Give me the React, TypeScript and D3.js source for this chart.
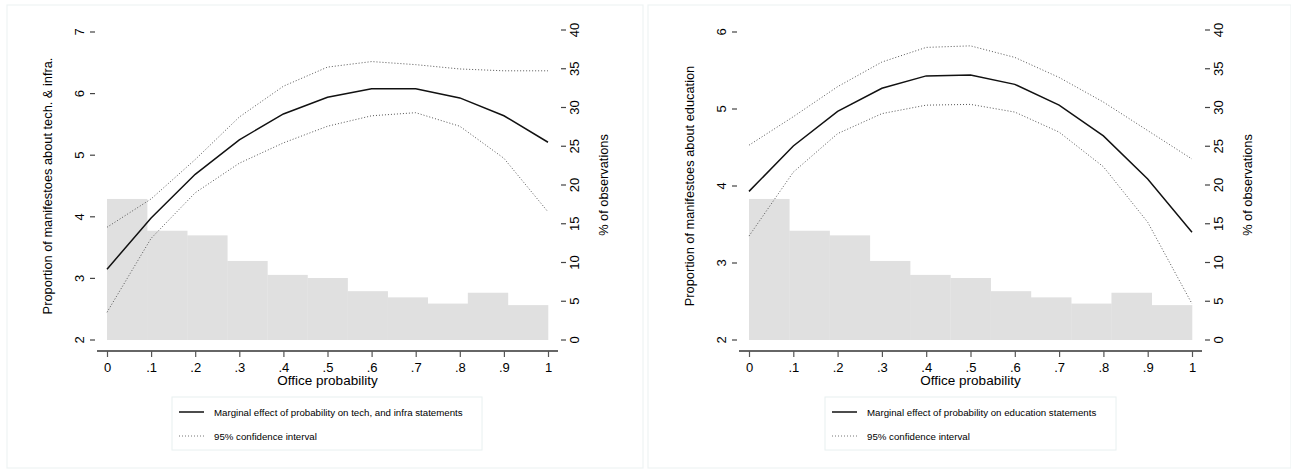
import React, { useEffect, useRef } from 'react';
import * as d3 from 'd3';

// office probability grid used by the margins
const probs = [0, 0.1, 0.2, 0.3, 0.4, 0.5, 0.6, 0.7, 0.8, 0.9, 1];

// histogram (% of observations), 11 bins over [0,1]
const histPct = [18.2, 14.1, 13.5, 10.2, 8.4, 8.0, 6.3, 5.5, 4.7, 6.1, 4.5];

// tech & infra panel
const techFit = [3.15, 3.98, 4.69, 5.25, 5.67, 5.94, 6.08, 6.08, 5.93, 5.64, 5.21];
const techHi = [3.83, 4.29, 4.93, 5.62, 6.12, 6.43, 6.52, 6.47, 6.4, 6.37, 6.37];
const techLo = [2.45, 3.65, 4.39, 4.87, 5.2, 5.47, 5.64, 5.69, 5.47, 4.95, 4.08];

// education panel
const eduFit = [3.93, 4.52, 4.97, 5.27, 5.43, 5.44, 5.32, 5.05, 4.65, 4.09, 3.4];
const eduHi = [4.53, 4.9, 5.29, 5.61, 5.8, 5.82, 5.67, 5.41, 5.09, 4.72, 4.35];
const eduLo = [3.35, 4.18, 4.68, 4.94, 5.05, 5.06, 4.96, 4.7, 4.25, 3.53, 2.47];

const pctTicks = [0, 5, 10, 15, 20, 25, 30, 35, 40];

const font = 'Liberation Sans, Arial, Helvetica, sans-serif';

function drawPanel(svg: any, o: any) {
    const g = svg.append('g').attr('transform', 'translate(' + o.left + ',0)');

    // panel frame
    g.append('rect').attr('x', 0).attr('y', 5).attr('width', o.width).attr('height', 463)
        .attr('fill', 'white').attr('stroke', '#eef3f3').attr('stroke-width', 1.2);

    const x = d3.scaleLinear().domain([0, 1]).range([o.x0, o.x1]);
    const y = d3.scaleLinear().domain(o.yDomain).range([340, 32]);
    const yr = d3.scaleLinear().domain([0, 40]).range([340, 30]);

    // histogram
    const nb = histPct.length;
    g.selectAll('.bin').data(histPct).enter().append('rect')
        .attr('x', (d: number, i: number) => x(i / nb))
        .attr('width', (d: number, i: number) => x((i + 1) / nb) - x(i / nb) + 0.3)
        .attr('y', (d: number) => yr(d))
        .attr('height', (d: number) => yr(0) - yr(d))
        .attr('fill', '#e0e0e0');

    const line = d3.line<number>().x((d, i) => x(probs[i])).y(d => y(d));

    [o.hi, o.lo].forEach((arr: number[]) => {
        g.append('path').attr('d', line(arr)).attr('fill', 'none')
            .attr('stroke', '#555').attr('stroke-width', 1).attr('stroke-dasharray', '1,2');
    });
    g.append('path').attr('d', line(o.fit)).attr('fill', 'none')
        .attr('stroke', '#111').attr('stroke-width', 1.5);

    // x axis
    const fmt = (d: number) => d === 0 ? '0' : d === 1 ? '1' : '.' + Math.round(d * 10);
    const xAxis = g.append('g').attr('transform', 'translate(0,351)')
        .call(d3.axisBottom(x).tickValues(probs).tickFormat(fmt as any).tickSize(6).tickSizeOuter(0));
    xAxis.select('.domain').attr('d', 'M' + (o.x0 - 10) + ',0H' + (o.x1 + 10)).attr('stroke', '#666').attr('stroke-width', 2);
    xAxis.selectAll('.tick line').attr('stroke', '#555').attr('stroke-width', 1.2);
    xAxis.selectAll('.tick text').attr('font-family', font).attr('font-size', 13).attr('fill', '#000').attr('dy', '0.9em');

    g.append('text').attr('x', (o.x0 + o.x1) / 2).attr('y', 385).attr('text-anchor', 'middle')
        .attr('font-family', font).attr('font-size', 13.5).text('Office probability');

    // left y axis
    const yTicks = d3.range(o.yDomain[0], o.yDomain[1] + 1);
    yTicks.forEach((t: number) => {
        g.append('line').attr('x1', o.x0 - 17).attr('x2', o.x0 - 12).attr('y1', y(t)).attr('y2', y(t))
            .attr('stroke', '#444').attr('stroke-width', 1.2);
        g.append('text').attr('transform', 'translate(' + (o.x0 - 23) + ',' + y(t) + ') rotate(-90)')
            .attr('text-anchor', 'middle').attr('font-family', font).attr('font-size', 13).text(t);
    });
    g.append('text').attr('transform', 'translate(' + (o.x0 - 55) + ',' + 186 + ') rotate(-90)')
        .attr('text-anchor', 'middle').attr('font-family', font).attr('font-size', 12.8).text(o.yTitle);

    // right y axis
    pctTicks.forEach((t: number) => {
        g.append('line').attr('x1', o.x1 + 13).attr('x2', o.x1 + 18).attr('y1', yr(t)).attr('y2', yr(t))
            .attr('stroke', '#444').attr('stroke-width', 1.2);
        g.append('text').attr('transform', 'translate(' + (o.x1 + 31) + ',' + yr(t) + ') rotate(-90)')
            .attr('text-anchor', 'middle').attr('font-family', font).attr('font-size', 13).text(t);
    });
    g.append('text').attr('transform', 'translate(' + (o.x1 + 60) + ',' + 185 + ') rotate(-90)')
        .attr('text-anchor', 'middle').attr('font-family', font).attr('font-size', 12.8).text('% of observations');

    // legend
    const lx = o.legX;
    g.append('rect').attr('x', lx).attr('y', 397).attr('width', o.legW).attr('height', 53)
        .attr('fill', 'white').attr('stroke', '#e8f0f0').attr('stroke-width', 1);
    g.append('line').attr('x1', lx + 7).attr('x2', lx + 32).attr('y1', 412).attr('y2', 412)
        .attr('stroke', '#111').attr('stroke-width', 1.5);
    g.append('line').attr('x1', lx + 7).attr('x2', lx + 32).attr('y1', 436).attr('y2', 436)
        .attr('stroke', '#777').attr('stroke-width', 1).attr('stroke-dasharray', '1,2');
    g.append('text').attr('x', lx + 42).attr('y', 415.5).attr('font-family', font).attr('font-size', 9.7).text(o.legText);
    g.append('text').attr('x', lx + 42).attr('y', 439.5).attr('font-family', font).attr('font-size', 9.7).text('95% confidence interval');
}

export default function App() {
    const ref = useRef<SVGSVGElement>(null);

    useEffect(() => {
        const svg = d3.select(ref.current);
        svg.selectAll('*').remove();
        drawPanel(svg, {
            left: 7, width: 636, x0: 100, x1: 541, yDomain: [2, 7],
            fit: techFit, hi: techHi, lo: techLo,
            yTitle: 'Proportion of manifestoes about tech. & infra.',
            legX: 165, legW: 310,
            legText: 'Marginal effect of probability on tech, and infra statements'
        });
        drawPanel(svg, {
            left: 648, width: 643, x0: 101, x1: 544, yDomain: [2, 6],
            fit: eduFit, hi: eduHi, lo: eduLo,
            yTitle: 'Proportion of manifestoes about education',
            legX: 177, legW: 291,
            legText: 'Marginal effect of probability on education statements'
        });
    }, []);

    return (
        <svg ref={ref} width={1291} height={469} style={{ position: 'absolute', left: 0, top: 0, background: 'white' }} />
    );
}
